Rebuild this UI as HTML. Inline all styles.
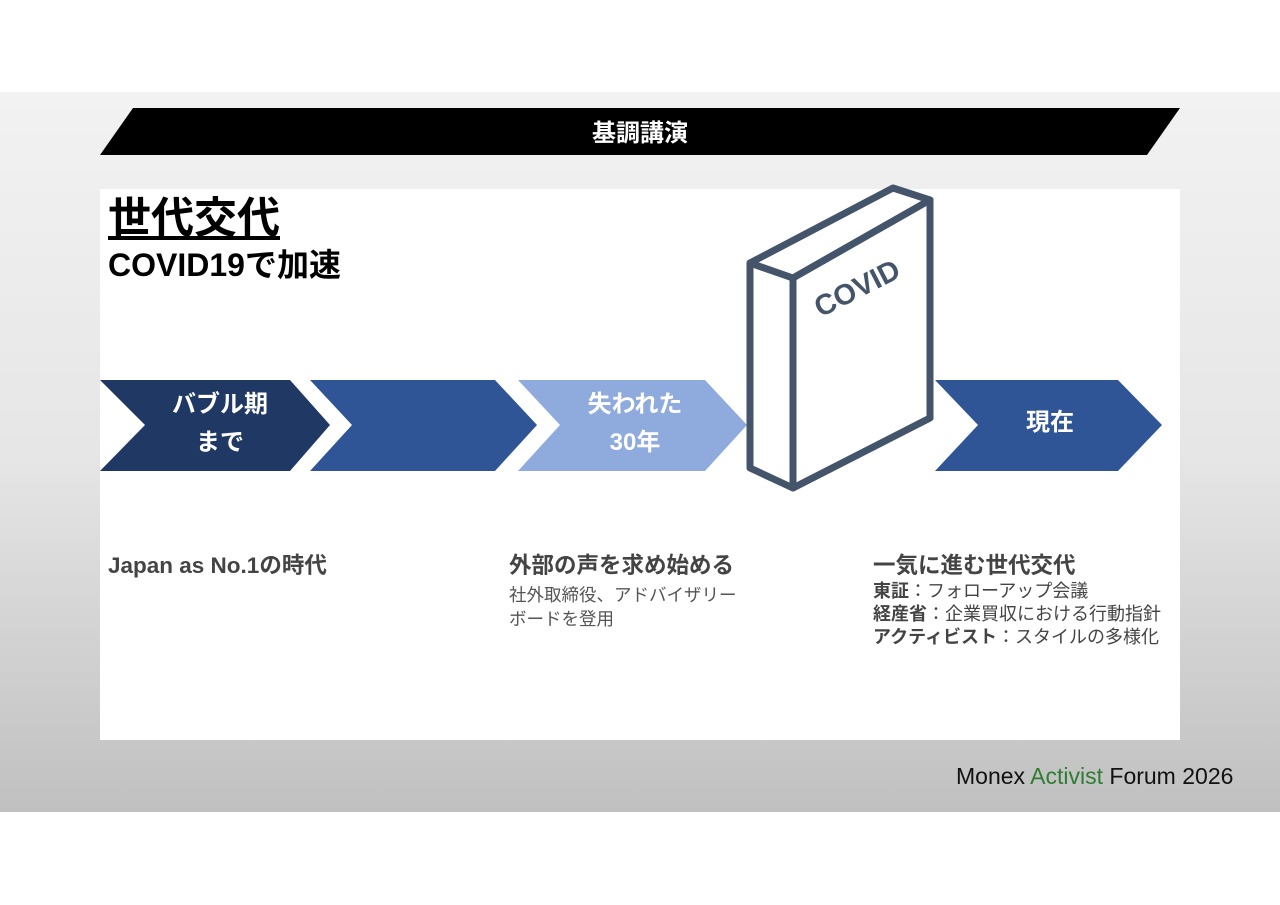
<!DOCTYPE html>
<html><head><meta charset="utf-8"><style>
body{margin:0;width:1280px;height:905px;background:#fff;position:relative;overflow:hidden;font-family:"Liberation Sans","Noto Sans CJK JP",sans-serif}
.bg{position:absolute;left:0;top:92px;width:1280px;height:720px;background:linear-gradient(#f2f2f2,#e6e6e6 50%,#c0c0c0)}
.panel{position:absolute;left:100px;top:189px;width:1080px;height:551px;background:#fff}
.t{position:absolute;white-space:nowrap}
</style></head><body>
<div class="bg"></div>
<div class="panel"></div>
<svg width="1280" height="905" style="position:absolute;left:0;top:0">
<polygon points="133,108 1180,108 1147,155 100,155" fill="#000"/>
<text x="640" y="141" font-size="24" font-weight="bold" fill="#fff" text-anchor="middle" font-family="Noto Sans CJK JP,sans-serif">基調講演</text>
<polygon points="100,380 290,380 330,425 290,471 100,471 145,425" fill="#203864"/>
<polygon points="310,380 495,380 537,425 495,471 310,471 352,425" fill="#2f5597"/>
<polygon points="518,380 705,380 747,425 705,471 518,471 560,425" fill="#8faadc"/>
<polygon points="935,380 1118,380 1162,425 1118,471 935,471 978,425" fill="#2f5597"/>
<g fill="#fff" stroke="#44546a" stroke-width="7" stroke-linejoin="round">
<polygon points="750,263 793,278 793,488 750,468"/>
<polygon points="750,263 893,188 930,200 793,278"/>
<polygon points="793,278 930,200 930,418 793,488"/>
</g>
<text x="857" y="298" font-size="29" font-weight="bold" fill="#44546a" text-anchor="middle" transform="rotate(-27 857 288)">COVID</text>
</svg>
<div class="t" style="left:108px;top:194px;font-size:43px;font-weight:bold;text-decoration:underline;line-height:50px">世代交代</div>
<div class="t" style="left:108px;top:246px;font-size:32px;font-weight:bold;line-height:38px">COVID19で加速</div>
<div class="t" style="left:150px;top:386px;width:140px;text-align:center;color:#fff;font-size:24px;font-weight:bold;line-height:38px">バブル期<br>まで</div>
<div class="t" style="left:565px;top:386px;width:140px;text-align:center;color:#fff;font-size:24px;font-weight:bold;line-height:38px">失われた<br>30年</div>
<div class="t" style="left:980px;top:405px;width:140px;text-align:center;color:#fff;font-size:24px;font-weight:bold;line-height:36px">現在</div>
<div class="t" style="left:108px;top:552px;font-size:22.5px;font-weight:bold;color:#444;line-height:28px">Japan as No.1の時代</div>
<div class="t" style="left:509px;top:552px;font-size:22.5px;font-weight:bold;color:#444;line-height:28px">外部の声を求め始める</div>
<div class="t" style="left:509px;top:583px;font-size:17.5px;color:#555;line-height:24px">社外取締役、アドバイザリー<br>ボードを登用</div>
<div class="t" style="left:873px;top:552px;font-size:22.5px;font-weight:bold;color:#444;line-height:28px">一気に進む世代交代</div>
<div class="t" style="left:873px;top:580px;font-size:18px;color:#444;line-height:23px"><b>東証</b>：フォローアップ会議<br><b>経産省</b>：企業買収における行動指針<br><b>アクティビスト</b>：スタイルの多様化</div>
<div class="t" style="left:956px;top:761px;font-size:23px;color:#111;line-height:30px">Monex <span style="color:#2e7d32">Activist</span> Forum 2026</div>
</body></html>
